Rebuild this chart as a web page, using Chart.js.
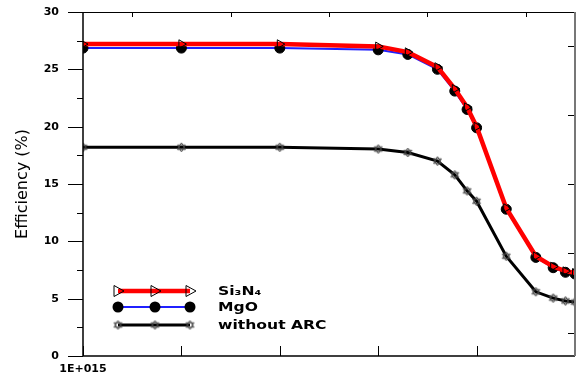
<!DOCTYPE html>
<html><head><meta charset="utf-8">
<script src="https://cdn.jsdelivr.net/npm/chart.js@4/dist/chart.umd.min.js"></script>
<style>html,body{margin:0;padding:0;background:#fff}#wrap{width:583px;height:379px}</style>
</head><body><div id="wrap"><canvas id="c" width="583" height="379"></canvas></div>
<script>
// ---- data ----
const carrierConc = [1e15,1e16,1e17,1e18,2e18,4e18,6e18,8e18,1e19,2e19,4e19,6e19,8e19,1e20];
const effSi3N4 = [27.2,27.2,27.2,27.0,26.5,25.2,23.3,21.7,20.0,12.9,8.7,7.8,7.4,7.25];
const effMgO   = [26.85,26.85,26.85,26.7,26.3,25.0,23.1,21.5,19.9,12.8,8.6,7.7,7.3,7.15];
const effNoARC = [18.2,18.2,18.2,18.05,17.75,17.0,15.8,14.4,13.5,8.7,5.6,5.05,4.8,4.7];
const seriesNames = ['Si\u2083N\u2084','MgO','without ARC'];
const yTicks = [0,2.5,5,7.5,10,12.5,15,17.5,20,22.5,25,27.5,30];
const xTicks = [1e15,1e16,1e17,1e18,1e19,1e20];
const xTickLabels = ['1E+015','','','','',''];
const xTopTicks = [3.16e15,3.16e16,3.16e17,3.16e18,3.16e19];
const yRightTicks = [2,9,15,21,27];
const yTitle = 'Efficiency (%)';

function hexagram(size, color){
  const c=document.createElement('canvas'); c.width=c.height=size;
  const g=c.getContext('2d'); const r=size/2-1, cx=size/2, cy=size/2;
  g.strokeStyle=color; g.lineWidth=1;
  for(let k=0;k<2;k++){ g.beginPath();
    for(let j=0;j<3;j++){ const an=-Math.PI/2+k*Math.PI+j*2*Math.PI/3;
      const px=cx+r*Math.cos(an), py=cy+r*Math.sin(an); j?g.lineTo(px,py):g.moveTo(px,py);}
    g.closePath(); g.stroke(); }
  return c;
}
const hexImg = hexagram(11,'#444');

const toPts = arr => carrierConc.map((x,i)=>({x, y:arr[i]}));
const noPad = s => { s.paddingTop=0; s.paddingBottom=0; s.paddingLeft=0; s.paddingRight=0; };

const decor = {
  id:'decor',
  afterDraw(chart){
    const {ctx, chartArea:a, scales:s} = chart;
    ctx.save();
    ctx.strokeStyle='#000'; ctx.lineWidth=1;
    ctx.beginPath();
    s.y.ticks.forEach(t=>{ const y=Math.round(s.y.getPixelForValue(t.value))+0.5; const len=(t.value%5===0)?15:6; ctx.moveTo(a.left-len,y); ctx.lineTo(a.left,y); });
    s.x.ticks.forEach(t=>{ const x=Math.round(s.x.getPixelForValue(t.value))+0.5; ctx.moveTo(x,a.bottom); ctx.lineTo(x,a.bottom-10); });
    s.x2.ticks.forEach(t=>{ const x=Math.round(s.x2.getPixelForValue(t.value))+0.5; ctx.moveTo(x,a.top); ctx.lineTo(x,a.top+5); });
    s.y2.ticks.forEach(t=>{ const y=Math.round(s.y2.getPixelForValue(t.value))+0.5; ctx.moveTo(a.right,y); ctx.lineTo(a.right-7,y); });
    ctx.stroke();
    // frame
    ctx.beginPath(); ctx.moveTo(a.left,a.top+0.5); ctx.lineTo(a.right,a.top+0.5); ctx.stroke();
    ctx.lineWidth=1.5;
    ctx.beginPath(); ctx.moveTo(a.left,a.top); ctx.lineTo(a.left,a.bottom); ctx.lineTo(a.right,a.bottom); ctx.stroke();
    ctx.strokeStyle='#777'; ctx.lineWidth=2;
    ctx.beginPath(); ctx.moveTo(a.right,a.top); ctx.lineTo(a.right,a.bottom); ctx.stroke();

    // legend
    const rows=[291,307,325], mx=[118,155,190];
    const lineCols=['#ff0000','#2020ff','#000'], lws=[4.5,2,3];
    rows.forEach((y,i)=>{
      ctx.strokeStyle=lineCols[i]; ctx.lineWidth=lws[i];
      ctx.beginPath(); ctx.moveTo(mx[0],y); ctx.lineTo(mx[2],y); ctx.stroke();
      mx.forEach(x=>{
        if(i===0){ ctx.strokeStyle='#000'; ctx.lineWidth=1; ctx.beginPath();
          ctx.moveTo(x-4,y-5.5); ctx.lineTo(x+6,y); ctx.lineTo(x-4,y+5.5); ctx.closePath(); ctx.stroke(); }
        else if(i===1){ ctx.fillStyle='#000'; ctx.beginPath(); ctx.arc(x,y,5.5,0,Math.PI*2); ctx.fill(); }
        else { ctx.drawImage(hexImg, x-5.5, y-5.5); }
      });
      ctx.fillStyle='#000'; ctx.font='bold 12px "DejaVu Sans"'; ctx.textBaseline='middle'; ctx.textAlign='left';
      ctx.save(); ctx.translate(218,y+1); ctx.scale(1.3,1); ctx.fillText(seriesNames[i],0,0); ctx.restore();
    });
    ctx.restore();
  }
};

const tickFont = {family:'DejaVu Sans', weight:'bold', size:11};
new Chart(document.getElementById('c'), {
  type:'line',
  data:{ datasets:[
    {label:seriesNames[0], data:toPts(effSi3N4), borderColor:'#ff0000', borderWidth:4.5,
     pointStyle:'triangle', rotation:90, pointRadius:5, pointBackgroundColor:'rgba(0,0,0,0)', pointBorderColor:'#000', pointBorderWidth:1, order:0, tension:0},
    {label:seriesNames[1], data:toPts(effMgO), borderColor:'#2020ff', borderWidth:2,
     pointStyle:'circle', pointRadius:5, pointBackgroundColor:'#000', pointBorderColor:'#000', pointBorderWidth:1, order:1, tension:0},
    {label:seriesNames[2], data:toPts(effNoARC), borderColor:'#000', borderWidth:3,
     pointStyle:hexImg, pointRadius:5, order:2, tension:0}
  ]},
  options:{
    responsive:false, animation:false, events:[],
    layout:{padding:0},
    plugins:{legend:{display:false}, tooltip:{enabled:false}},
    scales:{
      x:{type:'logarithmic', position:'bottom', min:1e15, max:1e20,
         afterBuildTicks:s=>{ s.ticks = xTicks.map(v=>({value:v})); },
         ticks:{callback:(v,i)=>xTickLabels[i], autoSkip:false, maxRotation:0, padding:7, color:'#000', font:tickFont},
         grid:{display:false, drawTicks:false}, border:{display:false},
         afterFit:s=>{ s.height=23; noPad(s); }},
      x2:{type:'logarithmic', position:'top', min:1e15, max:1e20,
         afterBuildTicks:s=>{ s.ticks = xTopTicks.map(v=>({value:v})); },
         ticks:{display:false}, grid:{display:false, drawTicks:false}, border:{display:false},
         afterFit:s=>{ s.height=12; noPad(s); }},
      y:{type:'linear', position:'left', min:0, max:30,
         afterBuildTicks:s=>{ s.ticks = yTicks.map(v=>({value:v})); },
         ticks:{callback:v=> (v%5===0)? String(v):'', autoSkip:false, padding:24, color:'#000', font:tickFont},
         grid:{display:false, drawTicks:false}, border:{display:false},
         title:{display:true, text:yTitle, color:'#000', font:{family:'DejaVu Sans', size:16}, padding:{top:13,bottom:0}},
         afterFit:s=>{ s.width=83; noPad(s); }},
      y2:{type:'linear', position:'right', min:0, max:30,
         afterBuildTicks:s=>{ s.ticks = yRightTicks.map(v=>({value:v})); },
         ticks:{display:false}, grid:{display:false, drawTicks:false}, border:{display:false},
         afterFit:s=>{ s.width=5; noPad(s); }}
    }
  },
  plugins:[decor]
});
</script></body></html>
